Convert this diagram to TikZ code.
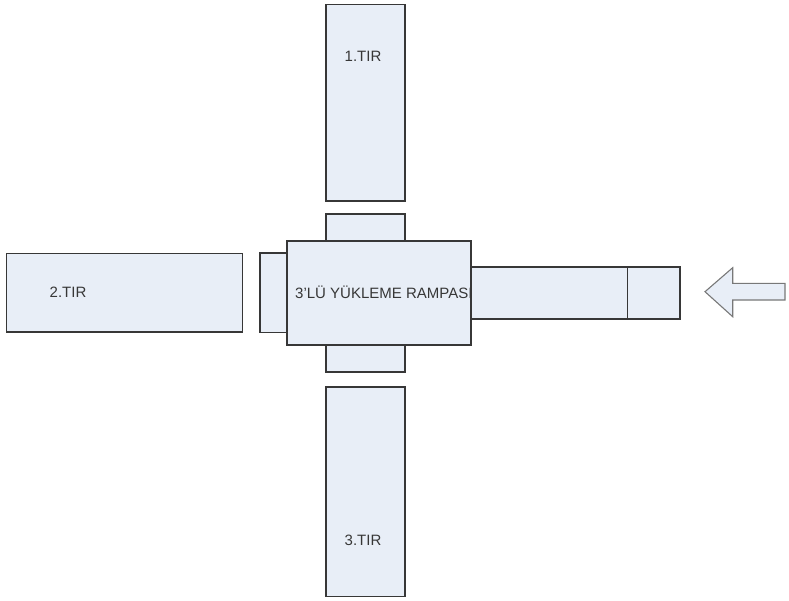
\documentclass[tikz,border=0pt]{standalone}
\usepackage{fontspec}
\setmainfont{Liberation Sans}
\definecolor{boxfill}{RGB}{232,238,247}
\definecolor{boxline}{RGB}{55,55,55}
\definecolor{arrline}{RGB}{120,120,120}
\definecolor{txt}{RGB}{55,55,55}
\begin{document}
\begin{tikzpicture}[x=1pt,y=-1pt,
  blk/.style={draw=boxline,fill=boxfill,line width=1.6pt,inner sep=0pt,rectangle},
  lbl/.style={text=txt,font=\fontsize{15}{18}\selectfont,inner sep=0pt}]
\useasboundingbox (0,0) rectangle (789,600);
% trucks
\node[blk,minimum width=79,minimum height=196.5] (t1) at (365.5,102.75) {};
\node[blk,minimum width=235.8,minimum height=78.4] (t2) at (124.4,292.5) {};
\node[blk,minimum width=79,minimum height=209.8] (t3) at (365.5,491.6) {};
% docks
\node[blk,minimum width=79,minimum height=26.7] (dtop) at (365.5,227.35) {};
\node[blk,minimum width=79,minimum height=26.7] (dbot) at (365.5,358.35) {};
\node[blk,minimum width=26.7,minimum height=79.6] (dleft) at (273.35,292.5) {};
% ramp
\node[blk,minimum width=184,minimum height=104.3] (ramp) at (378.7,292.85) {};
\begin{scope}
\clip (ramp.south west) rectangle (ramp.north east);
\node[lbl,anchor=west] (rampl) at (295,292) {3'LÜ YÜKLEME RAMPASI};
\end{scope}
% right side
\node[blk,minimum width=156.6,minimum height=52] (rlong) at (549,292.7) {};
\node[blk,minimum width=52.7,minimum height=52] (rend) at (653.65,292.7) {};
% labels
\node[lbl] (l1) at (363,56) {1.TIR};
\node[lbl] (l2) at (68,292.7) {2.TIR};
\node[lbl] (l3) at (363,540) {3.TIR};
% arrow
\coordinate (atip) at (705,291.7);
\draw[draw=arrline,fill=boxfill,line width=1.1pt,line join=miter]
  (atip) -- (732.7,267.7) -- (732.7,283.3) -- (785,283.3) -- (785,300)
  -- (732.7,300) -- (732.7,316.7) -- cycle;
\end{tikzpicture}
\end{document}
